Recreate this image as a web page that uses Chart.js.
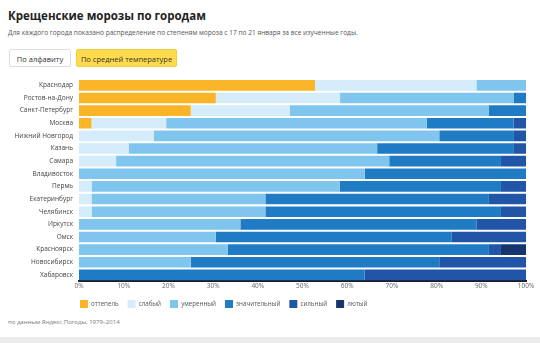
<!DOCTYPE html>
<html><head><meta charset="utf-8">
<script src="https://cdn.jsdelivr.net/npm/chart.js@4/dist/chart.umd.min.js"></script>
<style>
html,body{margin:0;padding:0;background:#fff;width:540px;height:343px;overflow:hidden;font-family:"Open Sans",Arial,sans-serif;}
#title{position:absolute;left:8px;top:8px;font-size:11.5px;font-weight:bold;color:#222;}
#sub{position:absolute;left:8px;top:28px;font-size:6.6px;color:#555;}
.btn{position:absolute;top:49px;height:18px;line-height:18px;font-size:7.5px;color:#333;box-sizing:border-box;text-align:center;border-radius:2px;}
#b1{left:9px;width:62px;border:1px solid #ddd;background:#fff;}
#b2{left:76px;width:101px;background:#ffdb4d;border:1px solid #f0cc40;}
#wrap{position:absolute;left:0;top:70px;width:540px;height:248px;}
#foot{position:absolute;left:8px;top:318px;font-size:6px;color:#777;}
#strip{position:absolute;left:0;top:337px;width:540px;height:6px;background:#ececec;}
</style></head><body>
<div id="title">Крещенские морозы по городам</div>
<div id="sub">Для каждого города показано распределение по степеням мороза с 17 по 21 января за все изученные годы.</div>
<div class="btn" id="b1">По алфавиту</div>
<div class="btn" id="b2">По средней температуре</div>
<div id="wrap"><canvas id="c"></canvas></div>
<div id="foot">по данным Яндекс.Погоды, 1979–2014</div>
<div id="strip"></div>
<script>
const cities = ["Краснодар","Ростов-на-Дону","Санкт-Петербург","Москва","Нижний Новгород","Казань","Самара","Владивосток","Пермь","Екатеринбург","Челябинск","Иркутск","Омск","Красноярск","Новосибирск","Хабаровск"];
const seriesNames = ["оттепель","слабый","умеренный","значительный","сильный","лютый"];
const thaw        = [52.8,30.6,25.0, 2.8, 0, 0, 0, 0, 0, 0, 0, 0, 0, 0, 0, 0];
const weak        = [36.1,27.8,22.2,16.7,16.7,11.1, 8.3, 0, 2.8, 2.8, 2.8, 0, 0, 0, 0, 0];
const moderate    = [11.1,38.8,44.5,58.3,63.9,55.6,61.1,63.9,55.5,38.9,38.9,36.1,30.6,33.3,25.0, 0];
const significant = [0, 2.8, 8.3,19.4,16.7,30.6,25.0,36.1,36.1,50.0,52.7,52.8,52.8,58.4,55.6,63.9];
const strong      = [0, 0, 0, 2.8, 2.7, 2.7, 5.6, 0, 5.6, 8.3, 5.6,11.1,16.6, 2.7,19.4,36.1];
const fierce      = [0, 0, 0, 0, 0, 0, 0, 0, 0, 0, 0, 0, 0, 5.6, 0, 0];
const xTicks = [0,10,20,30,40,50,60,70,80,90,100];
const colors = ["#f9b428","#d5edfa","#7fc5ee","#1f7cc4","#2155a7","#15356f"];
const series = [thaw,weak,moderate,significant,strong,fierce];
const F = '"Open Sans",Arial,sans-serif';
const shiftLegend = {id:'shiftLegend',afterLayout(chart){const l=chart.legend; if(l){l.left-=8; l.right-=8;}}};
new Chart(document.getElementById('c'),{
  type:'bar',
  data:{labels:cities,datasets:series.map((d,i)=>({label:seriesNames[i],data:d,backgroundColor:colors[i],borderWidth:0,barPercentage:0.84,categoryPercentage:1}))},
  plugins:[shiftLegend],
  options:{
    indexAxis:'y',responsive:true,maintainAspectRatio:false,animation:false,
    layout:{padding:{top:9,right:14,left:0,bottom:0}},
    plugins:{tooltip:{enabled:false},
      legend:{position:'bottom',align:'start',fullSize:false,
        labels:{boxWidth:8,boxHeight:8,padding:9,color:'#555',font:{size:6.2,family:F}}}},
    scales:{
      x:{stacked:true,min:0,max:100,afterBuildTicks:(s)=>{s.ticks=xTicks.map(v=>({value:v}));},
         grid:{display:false,drawTicks:false},border:{display:true,color:'#1a1a2a',width:2},
         ticks:{padding:1,color:'#666',font:{size:6.5,family:F},callback:v=>v+'%'}},
      y:{stacked:true,afterFit:(s)=>{s.width=79;},
         grid:{display:false,drawOnChartArea:false,drawTicks:true,tickLength:4,color:'#999'},
         border:{display:false},
         ticks:{autoSkip:false,padding:2,color:'#444',font:{size:6.5,family:F}}}
    }
  }
});
</script>
</body></html>
